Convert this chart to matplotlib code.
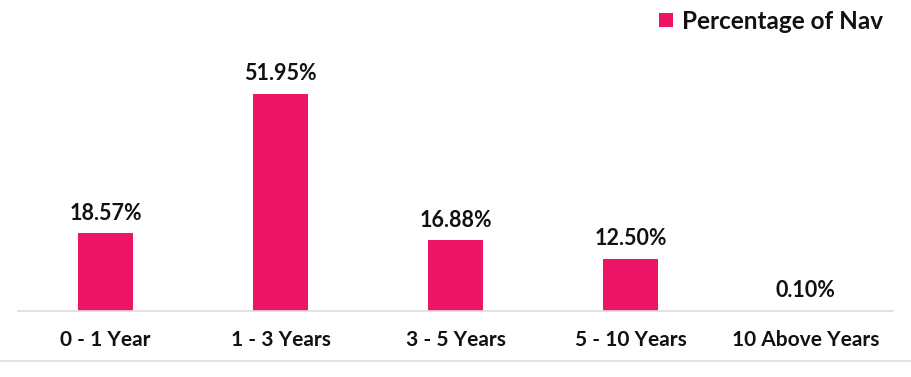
import numpy as np
import matplotlib.pyplot as plt
from matplotlib.lines import Line2D

# Data
categories = ['0 - 1 Year', '1 - 3 Years', '3 - 5 Years', '5 - 10 Years', '10 Above Years']
values = [18.57, 51.95, 16.88, 12.50, 0.10]
series_name = 'Percentage of Nav'

bar_color = '#EE1566'
text_color = '#111111'

plt.rcParams['font.family'] = ['Lato', 'DejaVu Sans']

fig = plt.figure(figsize=(9.12, 3.77), dpi=100)
ax = fig.add_axes([18 / 912, 66 / 377, 875 / 912, 311 / 377])

x = np.arange(len(categories))
bars = ax.bar(x, values, width=0.314, color=bar_color, label=series_name)

for xi, v in zip(x, values):
    ax.annotate(f'{v:.2f}%', (xi, v), xytext=(0, 7), textcoords='offset points',
                ha='center', va='bottom', fontsize=15.5, fontweight='bold', color=text_color)

ax.set_xlim(-0.5, len(categories) - 0.5)
ax.set_ylim(0, 74.45)
ax.set_xticks(x)
ax.set_xticklabels(categories, fontsize=15, fontweight='bold', color=text_color)
ax.tick_params(axis='x', length=0, pad=14)
ax.set_yticks([])
for side in ['top', 'right', 'left']:
    ax.spines[side].set_visible(False)
ax.spines['bottom'].set_color('#dddddd')
ax.spines['bottom'].set_linewidth(1.2)

leg = ax.legend(loc='upper right', bbox_to_anchor=(1.0, 1.0), frameon=False,
                handlelength=0.55, handleheight=0.55, handletextpad=0.4,
                borderaxespad=0.0, prop={'family': 'Lato', 'weight': 'bold', 'size': 17.5})
for t in leg.get_texts():
    t.set_color(text_color)

# thin separator line near the bottom
fig.add_artist(Line2D([0, 1], [1 - 361 / 377, 1 - 361 / 377], color='#e8dbe8', linewidth=1.2))

fig.savefig('out.png', dpi=100)
